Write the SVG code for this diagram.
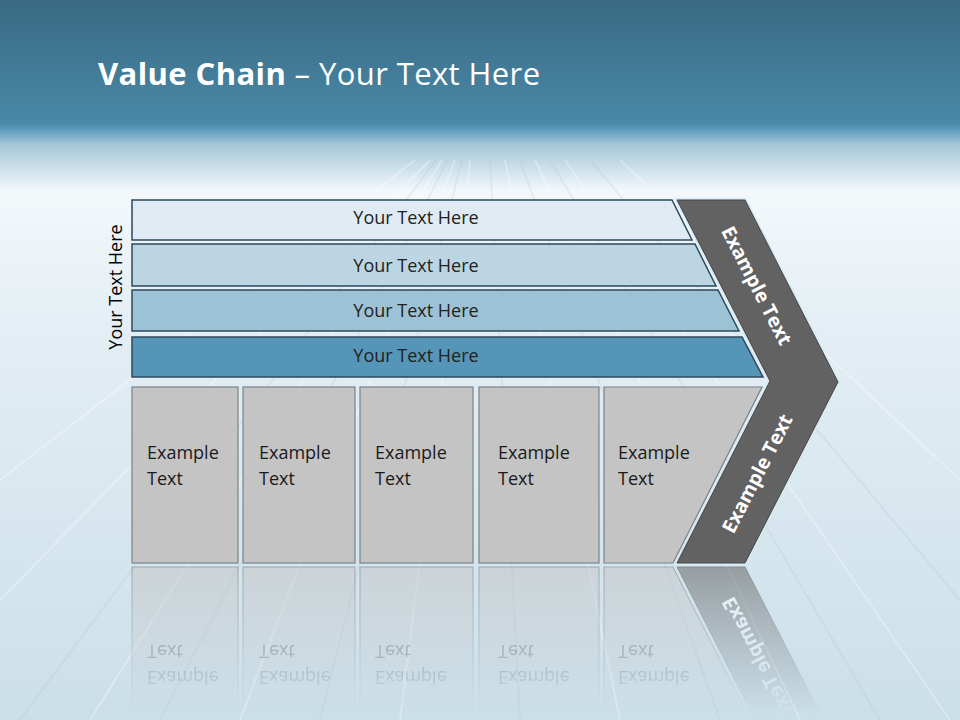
<svg xmlns="http://www.w3.org/2000/svg" width="960" height="720" viewBox="0 0 960 720">
<defs>
<linearGradient id="bg" x1="0" y1="0" x2="0" y2="1">
<stop offset="0" stop-color="#386a82"/>
<stop offset="0.17" stop-color="#4a88a8"/>
<stop offset="0.178" stop-color="#5697b7"/>
<stop offset="0.2" stop-color="#a3c6d8"/>
<stop offset="0.265" stop-color="#f3f8fb"/>
<stop offset="0.45" stop-color="#e4eef4"/>
<stop offset="1" stop-color="#cbdfe9"/>
</linearGradient>
<linearGradient id="fadeG" x1="0" y1="0" x2="0" y2="1">
<stop offset="0" stop-color="#fff" stop-opacity="0.55"/>
<stop offset="1" stop-color="#fff" stop-opacity="0"/>
</linearGradient>
<mask id="fade" maskUnits="userSpaceOnUse" x="0" y="560" width="960" height="160">
<rect x="0" y="565" width="960" height="150" fill="url(#fadeG)"/>
</mask>
<style>
.bar{stroke:#2b4a5e;stroke-width:1.5}
.bt{font-family:"Open Sans","Noto Sans",sans-serif;font-size:18px;fill:#222;text-anchor:middle}
.box{fill:#c4c4c4;stroke:#7b8289;stroke-width:1.2}
.xt{font-family:"Open Sans","Noto Sans",sans-serif;font-size:18px;fill:#1a1a1a}
.chev{fill:#626262;stroke:#454545;stroke-width:1}
.ct{font-family:"Open Sans","Noto Sans",sans-serif;font-size:19.5px;font-weight:bold;fill:#fff;text-anchor:middle}
.st{stroke:#ffffff;stroke-opacity:0.3;fill:none}
.sd{stroke:#a9c3d1;stroke-opacity:0.22;fill:none}
</style>
</defs>
<rect width="960" height="720" fill="url(#bg)"/>
<g id="streaks" stroke-width="2">
<path class="st" d="M430 160 L0 600"/>
<path class="sd" d="M436 160 L20 720"/>
<path class="st" d="M442 160 L90 720"/>
<path class="sd" d="M448 160 L160 720"/>
<path class="st" d="M455 160 L240 720"/>
<path class="sd" d="M462 160 L320 720"/>
<path class="st" d="M470 160 L400 720"/>
<path class="sd" d="M490 160 L520 720"/>
<path class="st" d="M505 160 L620 720"/>
<path class="sd" d="M520 160 L720 720"/>
<path class="st" d="M535 160 L800 720"/>
<path class="sd" d="M550 160 L880 720"/>
<path class="st" d="M565 160 L950 720"/>
<path class="sd" d="M590 160 L960 600"/>
<path class="st" d="M620 160 L960 480"/>
<path class="st" d="M415 160 L0 480"/>
</g>
<g id="title" font-family="'Open Sans','Noto Sans',sans-serif" font-size="31" fill="#fff" letter-spacing="0.4">
<text x="98" y="85"><tspan font-weight="bold">Value Chain</tspan> – Your Text Here</text>
</g>
<g id="side-label">
<text transform="translate(122,287) rotate(-90)" font-family="'Open Sans','Noto Sans',sans-serif" font-size="18" fill="#000" text-anchor="middle">Your Text Here</text>
</g>
<g id="bar1"><polygon class="bar" points="132,200 672,200 692,240 132,240" fill="#dfeaf2"/><text class="bt" x="416" y="224">Your Text Here</text></g>
<g id="bar2"><polygon class="bar" points="132,244 695,244 716,286 132,286" fill="#bcd5e2"/><text class="bt" x="416" y="272">Your Text Here</text></g>
<g id="bar3"><polygon class="bar" points="132,290 718,290 739,331 132,331" fill="#9dc2d6"/><text class="bt" x="416" y="317">Your Text Here</text></g>
<g id="bar4"><polygon class="bar" points="132,337 742,337 763,377 132,377" fill="#5595b8"/><text class="bt" x="416" y="362">Your Text Here</text></g>
<g id="chevron">
<polygon points="677,200 745,200 838,382 745,563 677,563 770,381" fill="none" stroke="#d8eaf3" stroke-width="4"/>
<polygon class="chev" points="677,200 745,200 838,382 745,563 677,563 770,381"/>
<text class="ct" transform="translate(756,286) rotate(62.8)" dy="6">Example Text</text>
<text class="ct" transform="translate(758,474) rotate(-62.8)" dy="6">Example Text</text>
</g>
<g id="box1"><rect class="box" x="132" y="387" width="106" height="176"/><text class="xt" x="147" y="459">Example</text><text class="xt" x="147" y="485">Text</text></g>
<g id="box2"><rect class="box" x="243" y="387" width="112" height="176"/><text class="xt" x="259" y="459">Example</text><text class="xt" x="259" y="485">Text</text></g>
<g id="box3"><rect class="box" x="360" y="387" width="113" height="176"/><text class="xt" x="375" y="459">Example</text><text class="xt" x="375" y="485">Text</text></g>
<g id="box4"><rect class="box" x="479" y="387" width="120" height="176"/><text class="xt" x="498" y="459">Example</text><text class="xt" x="498" y="485">Text</text></g>
<g id="box5"><polygon class="box" points="604,387 762,387 673,563 604,563"/><text class="xt" x="618" y="459">Example</text><text class="xt" x="618" y="485">Text</text></g>
<g id="reflection" mask="url(#fade)">
<g transform="translate(0,1130) scale(1,-1)">
<rect class="box" x="132" y="387" width="106" height="176"/><text class="xt" x="147" y="459">Example</text><text class="xt" x="147" y="485">Text</text>
<rect class="box" x="243" y="387" width="112" height="176"/><text class="xt" x="259" y="459">Example</text><text class="xt" x="259" y="485">Text</text>
<rect class="box" x="360" y="387" width="113" height="176"/><text class="xt" x="375" y="459">Example</text><text class="xt" x="375" y="485">Text</text>
<rect class="box" x="479" y="387" width="120" height="176"/><text class="xt" x="498" y="459">Example</text><text class="xt" x="498" y="485">Text</text>
<polygon class="box" points="604,387 762,387 673,563 604,563"/><text class="xt" x="618" y="459">Example</text><text class="xt" x="618" y="485">Text</text>
<polygon class="chev" points="770,381 838,382 745,563 677,563"/>
<text class="ct" transform="translate(758,474) rotate(-62.8)" dy="6">Example Text</text>
</g>
</g>
</svg>
